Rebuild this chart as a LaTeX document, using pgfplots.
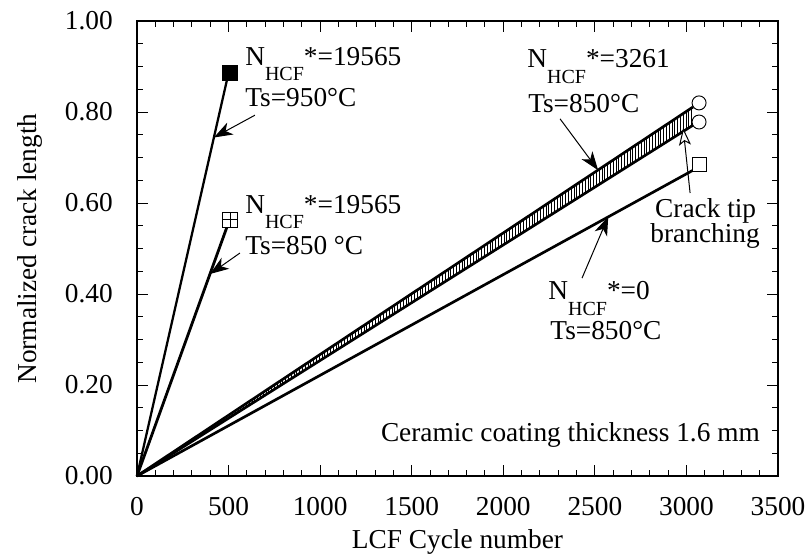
\documentclass[border=0pt]{standalone}
\usepackage{fontspec}
\setmainfont{Liberation Serif}
\usepackage{pgfplots}
\pgfplotsset{compat=1.18}
\usetikzlibrary{arrows.meta,patterns.meta}

\newcommand{\sub}[1]{\raisebox{-11.5pt}{\fontsize{15}{15}\selectfont #1}}

\begin{document}
\fontsize{20.5}{24}\selectfont
\begin{tikzpicture}
\begin{axis}[name=ax, width=480.75pt, height=341.25pt, scale only axis,
 xmin=0, xmax=3500, ymin=0, ymax=1,
 xtick={0,500,1000,1500,2000,2500,3000,3500},
 ytick={0,0.2,0.4,0.6,0.8,1.0},
 minor x tick num=4, minor y tick num=3,
 major tick length=8.25pt, minor tick length=4.5pt,
 tick style={black, line width=0.75pt},
 axis line style={line width=1.1pt},
 tick label style={font=\fontsize{20.5}{24}\selectfont},
 label style={font=\fontsize{20.5}{24}\selectfont},
 /pgf/number format/assume math mode=true,
 xticklabel style={anchor=north, inner sep=0pt, yshift=-16pt, /pgf/number format/.cd, set thousands separator={}},
 yticklabel style={anchor=east, inner sep=0pt, xshift=-18pt, /pgf/number format/.cd, fixed, fixed zerofill, precision=2},
 xlabel={LCF Cycle number}, ylabel={Normalized crack length},
 xlabel style={at={(axis description cs:0.5,-0.145)}, anchor=center},
 ylabel style={at={(axis description cs:-0.167,0.5)}, anchor=center},
 clip=false,
]
% hatched band N=3261
\addplot[draw=none, pattern={Lines[angle=90,distance=2.1pt,line width=0.55pt]}] coordinates {(0,0) (3036,0.811) (3036,0.771)} -- cycle;
\addplot[black, line width=2pt] coordinates {(0,0) (3036,0.811)};
\addplot[black, line width=2pt] coordinates {(0,0) (3036,0.771)};
% N=0
\addplot[black, line width=2pt] coordinates {(0,0) (3036,0.672)};
% 950
\addplot[black, line width=1.7pt] coordinates {(0,0) (491,0.870)};
% 850, 19565
\addplot[black, line width=2.1pt] coordinates {(0,0) (491,0.547)};
% markers
\addplot[only marks, mark=square*, mark size=5.6pt, mark options={fill=black, line width=0.6pt}] coordinates {(508,0.886)};
\addplot[only marks, mark=square*, mark size=5.6pt, mark options={fill=white, draw=black, line width=0.6pt}] coordinates {(508,0.563)};
\addplot[only marks, mark=+, mark size=5.6pt, mark options={draw=black, line width=0.6pt}] coordinates {(508,0.563)};
\addplot[only marks, mark=*, mark size=5.25pt, mark options={fill=white, draw=black, line width=0.7pt}] coordinates {(3069,0.820) (3069,0.778)};
\addplot[only marks, mark=square*, mark size=5.25pt, mark options={fill=white, draw=black, line width=0.7pt}] coordinates {(3069,0.684)};

% arrows
\draw[line width=0.75pt, -{Stealth[length=14pt,width=10pt,inset=4pt]}] (axis cs:644,0.793) -- (axis cs:420,0.744);
\draw[line width=0.75pt, -{Stealth[length=14pt,width=10pt,inset=4pt]}] (axis cs:562,0.49) -- (axis cs:399,0.444);
\draw[line width=0.75pt, -{Stealth[length=14pt,width=10pt,inset=4pt]}] (axis cs:2310,0.785) -- (axis cs:2518,0.672);
\draw[line width=0.75pt, -{Stealth[length=14pt,width=10pt,inset=4pt]}] (axis cs:2430,0.435) -- (axis cs:2573,0.570);
\draw[line width=0.75pt, -{Stealth[open,length=13pt,width=9pt,inset=3pt,fill=white]}] (axis cs:3020,0.622) -- (axis cs:2982,0.765);

% texts
\node[anchor=base west, inner sep=0pt] at (axis cs:590,0.903) {N\sub{HCF}*=19565};
\node[anchor=base west, inner sep=0pt] at (axis cs:590,0.813) {Ts=950°C};
\node[anchor=base west, inner sep=0pt] at (axis cs:590,0.578) {N\sub{HCF}*=19565};
\node[anchor=base west, inner sep=0pt] at (axis cs:590,0.486) {Ts=850 °C};
\node[anchor=base west, inner sep=0pt] at (axis cs:2130,0.897) {N\sub{HCF}*=3261};
\node[anchor=base west, inner sep=0pt] at (axis cs:2135,0.800) {Ts=850°C};
\node[anchor=base west, inner sep=0pt] at (axis cs:2245,0.387) {N\sub{HCF}*=0};
\node[anchor=base west, inner sep=0pt] at (axis cs:2256,0.299) {Ts=850°C};
\node[anchor=base, inner sep=0pt] at (axis cs:3105,0.569) {Crack tip};
\node[anchor=base, inner sep=0pt] at (axis cs:3102,0.514) {branching};
\node[anchor=base east, inner sep=0pt] at (axis cs:3402,0.075) {Ceramic coating thickness 1.6 mm};
\end{axis}
\pgfresetboundingbox
\path[use as bounding box] ([shift={(-102.75pt,-61.5pt)}]ax.south west) rectangle ([shift={(504.75pt,357pt)}]ax.south west);
\end{tikzpicture}
\end{document}
